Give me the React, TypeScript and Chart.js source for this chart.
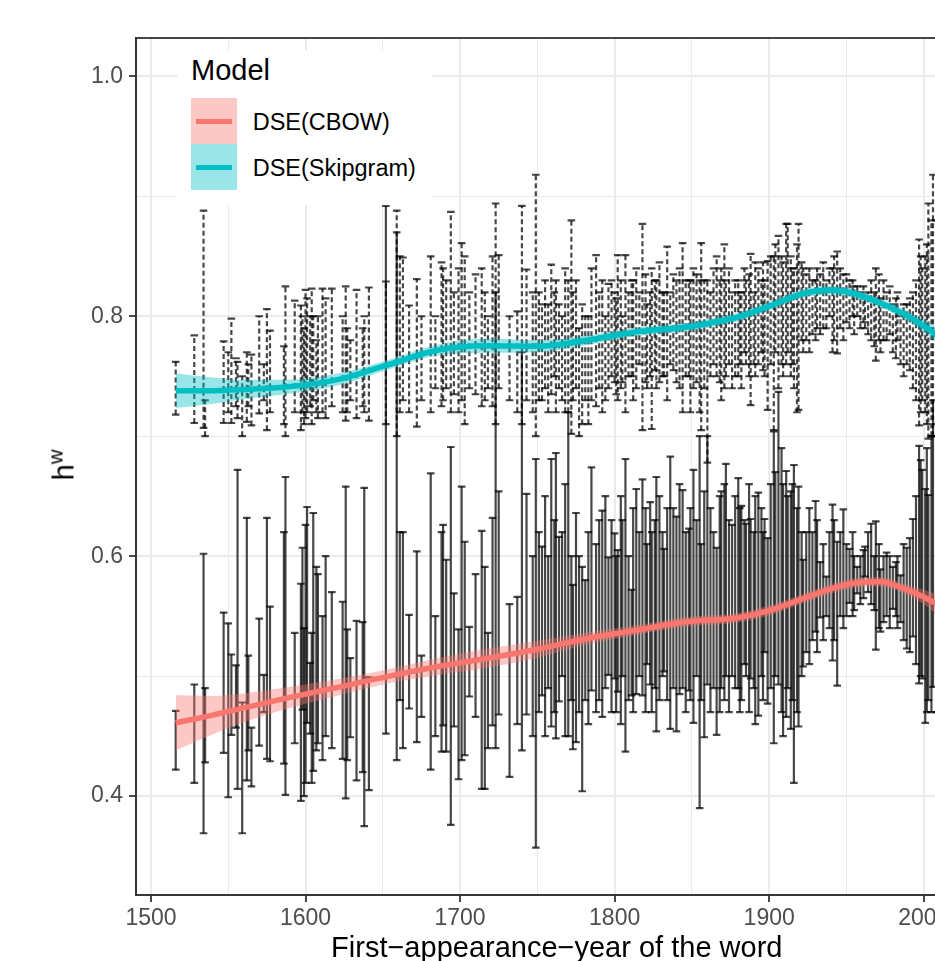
import React, { useEffect, useRef } from 'react';
import { Chart, registerables } from 'chart.js';
Chart.register(...registerables);

// ---------- data ----------
const years = [
  1516, 1528, 1534, 1535, 1547, 1550, 1552, 1555, 1556, 1559,
  1562, 1563, 1565, 1570, 1573, 1575, 1577, 1586, 1587, 1593,
  1597, 1598, 1599, 1600, 1601, 1603, 1604, 1605, 1607, 1608,
  1611, 1613, 1617, 1624, 1626, 1627, 1629, 1633, 1637, 1638,
  1641, 1652, 1659, 1661, 1663, 1667, 1672, 1675, 1681, 1684,
  1688, 1689, 1691, 1694, 1696, 1699, 1701, 1703, 1706, 1710,
  1714, 1716, 1718, 1721, 1723, 1725, 1732, 1737, 1740, 1743,
  1747, 1749, 1751, 1753, 1755, 1757, 1759, 1761, 1762, 1764,
  1766, 1768, 1770, 1772, 1773, 1775, 1777, 1779, 1781, 1783,
  1785, 1788, 1790, 1792, 1794, 1796, 1798, 1800, 1801, 1802,
  1804, 1805, 1807, 1809, 1811, 1812, 1814, 1816, 1818, 1820,
  1821, 1823, 1824, 1826, 1827, 1829, 1831, 1832, 1834, 1836,
  1838, 1840, 1842, 1844, 1846, 1848, 1849, 1851, 1853, 1855,
  1856, 1858, 1860, 1862, 1864, 1866, 1868, 1869, 1871, 1872,
  1874, 1876, 1878, 1880, 1881, 1882, 1884, 1885, 1887, 1888,
  1890, 1891, 1893, 1895, 1896, 1897, 1899, 1901, 1903, 1904,
  1906, 1908, 1909, 1911, 1912, 1914, 1915, 1916, 1918, 1919,
  1921, 1922, 1924, 1926, 1928, 1930, 1931, 1933, 1935, 1937,
  1939, 1941, 1942, 1944, 1946, 1948, 1950, 1952, 1954, 1955,
  1957, 1959, 1961, 1962, 1964, 1966, 1968, 1969, 1971, 1972,
  1974, 1976, 1978, 1980, 1982, 1983, 1985, 1987, 1989, 1991,
  1993, 1995, 1997, 1998, 1999, 2001, 2002, 2003, 2005, 2006,
  2008, 2010,
];

const cbowLo = [
  .422, .411, .369, .428, .436, .399, .451, .457, .406, .369,
  .413, .438, .408, .442, .470, .431, .429, .427, .401, .444,
  .396, .472, .400, .411, .461, .452, .411, .421, .438, .444,
  .430, .450, .440, .431, .398, .430, .449, .413, .420, .375,
  .405, .452, .430, .480, .440, .473, .445, .466, .422, .450,
  .437, .459, .437, .376, .458, .414, .430, .434, .483, .466,
  .406, .406, .440, .459, .440, .468, .416, .460, .438, .468,
  .450, .357, .470, .484, .450, .490, .458, .470, .448, .479,
  .500, .450, .450, .480, .439, .445, .470, .404, .480, .460,
  .488, .470, .480, .466, .490, .501, .470, .498, .470, .487,
  .460, .500, .437, .480, .484, .470, .485, .500, .484, .470,
  .510, .493, .470, .490, .454, .480, .500, .504, .480, .456,
  .490, .454, .485, .490, .470, .488, .480, .461, .500, .390,
  .480, .449, .493, .470, .490, .451, .470, .490, .480, .500,
  .470, .500, .490, .490, .470, .480, .510, .500, .470, .498,
  .490, .460, .467, .500, .480, .520, .477, .490, .444, .500,
  .493, .470, .450, .466, .490, .456, .480, .411, .470, .458,
  .500, .508, .520, .510, .530, .537, .520, .549, .530, .550,
  .540, .513, .530, .492, .550, .540, .550, .561, .550, .555,
  .569, .560, .565, .583, .570, .560, .555, .522, .540, .537,
  .545, .550, .540, .556, .550, .540, .545, .530, .523, .520,
  .533, .510, .494, .500, .498, .461, .470, .480, .470, .491,
  .470, .460,
];

const cbowHi = [
  .471, .493, .602, .490, .553, .544, .518, .509, .672, .478,
  .632, .517, .457, .548, .501, .632, .558, .620, .666, .536,
  .577, .607, .540, .626, .641, .511, .536, .636, .591, .585,
  .550, .600, .570, .562, .658, .539, .515, .546, .545, .657,
  .499, .892, .870, .620, .620, .551, .604, .517, .669, .550,
  .620, .626, .597, .691, .569, .539, .658, .612, .541, .585,
  .621, .591, .536, .632, .820, .654, .560, .566, .770, .652,
  .600, .681, .620, .608, .650, .600, .681, .630, .686, .616,
  .620, .660, .720, .600, .576, .636, .600, .591, .580, .620,
  .674, .610, .630, .638, .650, .599, .630, .619, .600, .605,
  .650, .630, .681, .600, .572, .640, .656, .620, .664, .640,
  .610, .645, .620, .630, .666, .650, .620, .606, .640, .683,
  .640, .633, .660, .655, .620, .623, .640, .672, .630, .700,
  .610, .654, .700, .640, .620, .607, .650, .654, .660, .677,
  .630, .626, .650, .665, .640, .642, .630, .627, .660, .631,
  .620, .650, .653, .640, .620, .631, .615, .660, .704, .670,
  .737, .690, .660, .671, .650, .654, .660, .676, .640, .658,
  .620, .597, .620, .640, .620, .646, .630, .595, .610, .583,
  .620, .643, .630, .612, .620, .639, .610, .606, .620, .600,
  .591, .600, .605, .608, .620, .627, .600, .629, .610, .589,
  .600, .603, .600, .591, .595, .600, .584, .610, .607, .615,
  .631, .650, .692, .680, .672, .656, .690, .651, .700, .730,
  .700, .720,
];

const skipLo = [
  .718, .711, .707, .700, .711, .720, .711, .725, .715, .700,
  .712, .725, .709, .719, .730, .705, .720, .710, .700, .720,
  .705, .720, .710, .715, .720, .725, .710, .730, .720, .715,
  .720, .715, .725, .720, .713, .720, .730, .715, .725, .720,
  .713, .710, .700, .720, .730, .720, .708, .730, .720, .740,
  .725, .730, .740, .720, .735, .720, .730, .710, .740, .735,
  .725, .730, .740, .725, .710, .740, .730, .720, .710, .730,
  .720, .700, .730, .730, .740, .720, .735, .750, .720, .740,
  .730, .720, .720, .702, .730, .740, .700, .710, .730, .710,
  .730, .725, .740, .720, .730, .740, .750, .745, .735, .730,
  .740, .745, .720, .750, .750, .730, .740, .760, .705, .745,
  .740, .750, .706, .755, .740, .745, .750, .750, .730, .760,
  .755, .745, .740, .720, .750, .750, .720, .740, .745, .720,
  .705, .740, .678, .750, .760, .750, .745, .730, .740, .750,
  .760, .740, .750, .750, .760, .740, .770, .760, .750, .726,
  .760, .750, .760, .770, .755, .750, .722, .760, .705, .770,
  .740, .760, .750, .760, .770, .750, .760, .740, .720, .722,
  .780, .770, .780, .770, .785, .780, .790, .785, .790, .790,
  .800, .770, .780, .769, .790, .780, .795, .790, .800, .785,
  .800, .790, .795, .790, .785, .780, .775, .763, .780, .770,
  .780, .780, .785, .770, .765, .780, .760, .750, .760, .755,
  .740, .730, .709, .720, .730, .720, .710, .698, .700, .700,
  .710, .700,
];

const skipHi = [
  .762, .784, .888, .730, .779, .770, .798, .765, .762, .750,
  .770, .760, .768, .800, .760, .806, .788, .775, .825, .813,
  .809, .800, .790, .822, .815, .800, .823, .800, .780, .800,
  .823, .815, .823, .800, .825, .790, .780, .822, .790, .800,
  .824, .829, .888, .850, .849, .809, .831, .800, .850, .800,
  .845, .840, .830, .887, .820, .840, .861, .850, .820, .835,
  .840, .820, .800, .850, .894, .851, .800, .804, .892, .839,
  .820, .918, .820, .810, .830, .810, .843, .820, .830, .810,
  .800, .840, .830, .880, .820, .830, .790, .810, .800, .800,
  .840, .851, .820, .830, .800, .827, .830, .820, .815, .851,
  .830, .800, .851, .820, .830, .830, .840, .820, .877, .835,
  .810, .820, .840, .830, .830, .845, .820, .820, .858, .820,
  .835, .830, .840, .861, .830, .830, .830, .840, .835, .830,
  .861, .830, .830, .820, .840, .850, .830, .840, .860, .830,
  .840, .820, .830, .830, .820, .820, .840, .830, .835, .852,
  .820, .845, .840, .830, .845, .830, .846, .850, .850, .860,
  .867, .850, .845, .877, .877, .850, .840, .840, .860, .877,
  .845, .840, .835, .840, .830, .830, .840, .835, .845, .830,
  .840, .840, .850, .854, .840, .835, .835, .830, .830, .825,
  .825, .820, .825, .815, .820, .830, .820, .840, .835, .815,
  .830, .820, .825, .810, .815, .820, .800, .810, .810, .815,
  .820, .830, .864, .850, .840, .850, .860, .894, .880, .918,
  .880, .900,
];

// smoothed trend (loess-like fit) and its confidence half-width
const smoothYears = [1516, 1540, 1560, 1587, 1620, 1652, 1685, 1717, 1750, 1782, 1814, 1847, 1868, 1879, 1901, 1922, 1940, 1955, 1972, 1987, 2000, 2010];
const cbowFit = [.461, .4675, .4735, .4814, .4904, .4994, .5078, .5147, .5224, .5314, .5383, .5453, .5472, .5485, .555, .5647, .5728, .5775, .5786, .5731, .566, .559];
const cbowSe = [.023, .016, .012, .009, .007, .006, .007, .008, .007, .005, .004, .004, .004, .004, .004, .004, .004, .004, .004, .004, .006, .009];
const skipFit = [.738, .738, .739, .741, .747, .759, .7717, .7755, .775, .780, .787, .791, .796, .799, .809, .819, .8217, .819, .811, .802, .792, .783];
const skipSe = [.0145, .011, .008, .006, .005, .004, .0045, .006, .005, .004, .0035, .0035, .0035, .0035, .0035, .0035, .0035, .0035, .0035, .004, .005, .007];

const xTickValues = [1500, 1550, 1600, 1650, 1700, 1750, 1800, 1850, 1900, 1950, 2000];
const yTickValues = [0.4, 0.5, 0.6, 0.7, 0.8, 0.9, 1.0];
const seriesNames = ['DSE(CBOW)', 'DSE(Skipgram)'];
const seriesColors = ['#F8766D', '#00BFC4'];
const seriesFills = ['rgba(248,118,109,0.4)', 'rgba(0,191,196,0.4)'];
const legendTitle = 'Model';
const xTitle = 'First\u2212appearance\u2212year of the word';

// ---------- layout ----------
const W = 1000;
const H = 990;
const FONT = '"Liberation Sans", Arial, Helvetica, sans-serif';

export default function App() {
  const ref = useRef<HTMLCanvasElement>(null);

  useEffect(() => {
    const canvas = ref.current;
    if (!canvas) return;

    const bars = (lo: number[], hi: number[]) => {
      const d: any[] = [];
      years.forEach((yr, i) => {
        d.push({ x: yr, y: lo[i] }, { x: yr, y: hi[i] }, { x: yr, y: null });
      });
      return d;
    };
    const fitLine = (fit: number[]) => smoothYears.map((yr, i) => ({ x: yr, y: fit[i] }));
    const band = (fit: number[], se: number[], s: number) => smoothYears.map((yr, i) => ({ x: yr, y: fit[i] + s * se[i] }));

    const barColor = 'rgba(0,0,0,0.72)';
    const barBase = {
      borderColor: barColor,
      borderWidth: 2.2,
      pointStyle: 'line',
      pointRadius: 3.8,
      pointBorderWidth: 2.2,
      pointBorderColor: barColor,
      pointBackgroundColor: barColor,
      spanGaps: false,
      fill: false,
      segment: { borderColor: () => undefined },
      order: 2,
    };
    const smoothBase = {
      pointRadius: 0,
      cubicInterpolationMode: 'monotone',
    };

    const panelBorder = {
      id: 'panelBorder',
      afterDatasetsDraw(chart: any) {
        const { ctx, chartArea: a } = chart;
        ctx.save();
        ctx.strokeStyle = '#333333';
        ctx.lineWidth = 1.8;
        ctx.strokeRect(a.left, a.top, a.right - a.left, a.bottom - a.top);
        ctx.restore();
      },
    };

    const isMajorX = (v: number) => Math.round(v) % 100 === 0;
    const isMajorY = (v: number) => Math.round(v * 10) % 2 === 0;

    const chart = new Chart(canvas, {
      type: 'line',
      data: {
        datasets: [
          { ...smoothBase, label: seriesNames[0], data: fitLine(cbowFit), borderColor: seriesColors[0], borderWidth: 5.5, fill: false, order: 0 },
          { ...smoothBase, label: seriesNames[1], data: fitLine(skipFit), borderColor: seriesColors[1], borderWidth: 5.5, fill: false, order: 0 },
          { ...smoothBase, label: 'cbowUpper', data: band(cbowFit, cbowSe, 1), borderWidth: 0, borderColor: 'rgba(0,0,0,0)', backgroundColor: seriesFills[0], fill: '+1', order: 1 },
          { ...smoothBase, label: 'cbowLower', data: band(cbowFit, cbowSe, -1), borderWidth: 0, borderColor: 'rgba(0,0,0,0)', fill: false, order: 1 },
          { ...smoothBase, label: 'skipUpper', data: band(skipFit, skipSe, 1), borderWidth: 0, borderColor: 'rgba(0,0,0,0)', backgroundColor: seriesFills[1], fill: '+1', order: 1 },
          { ...smoothBase, label: 'skipLower', data: band(skipFit, skipSe, -1), borderWidth: 0, borderColor: 'rgba(0,0,0,0)', fill: false, order: 1 },
          { ...barBase, label: 'cbowBars', data: bars(cbowLo, cbowHi) },
          { ...barBase, label: 'skipBars', data: bars(skipLo, skipHi), borderDash: [5, 3] },
        ] as any,
      },
      options: {
        responsive: false,
        maintainAspectRatio: false,
        animation: false,
        devicePixelRatio: 1,
        events: [],
        layout: { padding: { left: 0, top: 38, right: W - 977.5, bottom: 0 } },
        plugins: {
          legend: { display: false },
          tooltip: { enabled: false },
        },
        scales: {
          x: {
            type: 'linear',
            min: 1490.3,
            max: 2034.8,
            afterBuildTicks: (s: any) => { s.ticks = xTickValues.map((v) => ({ value: v })); },
            afterFit: (s: any) => { s.height = H - 895; },
            ticks: {
              autoSkip: false,
              maxRotation: 0,
              padding: 3,
              color: '#4D4D4D',
              font: { family: FONT, size: 23 },
              callback: (v: any) => (isMajorX(Number(v)) ? String(Math.round(Number(v))) : ''),
            },
            grid: {
              color: '#EBEBEB',
              lineWidth: (c: any) => (c.tick && isMajorX(c.tick.value) ? 2 : 1),
              tickLength: 7,
              tickColor: (c: any) => (c.tick && isMajorX(c.tick.value) ? '#333333' : 'rgba(0,0,0,0)'),
              tickWidth: 1.8,
            },
            border: { color: '#333333', width: 1.8 },
            title: {
              display: true,
              text: xTitle,
              color: '#000000',
              font: { family: FONT, size: 29 },
              padding: { top: 0, bottom: 23.6 },
            },
          },
          y: {
            type: 'linear',
            min: 0.3175,
            max: 1.032,
            afterBuildTicks: (s: any) => { s.ticks = yTickValues.map((v) => ({ value: v })); },
            afterFit: (s: any) => { s.width = 136; },
            ticks: {
              padding: 6,
              color: '#4D4D4D',
              font: { family: FONT, size: 23 },
              callback: (v: any) => (isMajorY(Number(v)) ? Number(v).toFixed(1) : ''),
            },
            grid: {
              color: '#EBEBEB',
              lineWidth: (c: any) => (c.tick && isMajorY(c.tick.value) ? 2 : 1),
              tickLength: 7,
              tickColor: (c: any) => (c.tick && isMajorY(c.tick.value) ? '#333333' : 'rgba(0,0,0,0)'),
              tickWidth: 1.8,
            },
            border: { color: '#333333', width: 1.8 },
          },
        },
      } as any,
      plugins: [panelBorder],
    });

    return () => chart.destroy();
  }, []);

  const keyTop = [98, 144];
  const labelTop = [111, 156.8];

  return (
    <div style={{ position: 'fixed', left: 0, top: 0, width: 935, height: 961, overflow: 'hidden', background: '#ffffff' }}>
      <canvas ref={ref} width={W} height={H} style={{ position: 'absolute', left: 0, top: 0, width: W, height: H }} />
      <div
        style={{
          position: 'absolute', left: 64, top: 465,
          transform: 'translate(-50%, -50%) rotate(-90deg)',
          fontFamily: FONT, fontSize: 29, lineHeight: 1, whiteSpace: 'nowrap', color: '#000',
        }}
      >
        h<sup style={{ fontSize: '0.7em', lineHeight: 0 }}>w</sup>
      </div>
      <div style={{ position: 'absolute', left: 177, top: 50, width: 255, height: 155, background: '#ffffff' }} />
      <div style={{ position: 'absolute', left: 191, top: 56.2, fontFamily: FONT, fontSize: 29, lineHeight: 1, color: '#000', whiteSpace: 'nowrap' }}>
        {legendTitle}
      </div>
      {seriesNames.map((name, i) => (
        <React.Fragment key={name}>
          <div style={{ position: 'absolute', left: 191, top: keyTop[i], width: 46, height: 46, background: seriesFills[i] }} />
          <div style={{ position: 'absolute', left: 196, top: keyTop[i] + 21, width: 36, height: 4.5, background: seriesColors[i] }} />
          <div style={{ position: 'absolute', left: 252.7, top: labelTop[i], fontFamily: FONT, fontSize: 23.5, lineHeight: 1, color: '#000', whiteSpace: 'nowrap' }}>
            {name}
          </div>
        </React.Fragment>
      ))}
    </div>
  );
}
